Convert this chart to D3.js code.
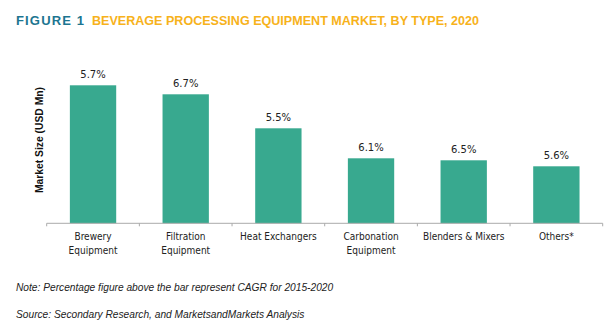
<!DOCTYPE html>
<html><head><meta charset="utf-8">
<script src="https://cdn.jsdelivr.net/npm/d3@7"></script>
<style>body{margin:0;background:#fff}svg{display:block}</style>
</head><body>
<svg id="c" width="613" height="336"></svg>
<script>
const categories = ["Brewery\nEquipment","Filtration\nEquipment","Heat Exchangers","Carbonation\nEquipment","Blenders & Mixers","Others*"];
const values = [138, 129, 95, 65, 63, 57];
const cagr = ["5.7%","6.7%","5.5%","6.1%","6.5%","5.6%"];

const svg = d3.select("#c");
const x = d3.scaleBand().domain(categories).range([46.7, 602.7]).paddingInner(0.5).paddingOuter(0.25);
const y = d3.scaleLinear().domain([0, 150]).range([223.3, 73.3]);

// title
svg.append("text").attr("x",16).attr("y",24.5).attr("font-family","Liberation Sans, sans-serif")
  .attr("font-weight","bold").attr("font-size",13).attr("fill","#1c7590")
  .attr("textLength",68).attr("lengthAdjust","spacing").text("FIGURE 1");
svg.append("text").attr("x",92).attr("y",24.5).attr("font-family","Liberation Sans, sans-serif")
  .attr("font-weight","bold").attr("font-size",13.5).attr("fill","#f7b21b")
  .attr("textLength",387).attr("lengthAdjust","spacingAndGlyphs")
  .text("BEVERAGE PROCESSING EQUIPMENT MARKET, BY TYPE, 2020");

// bars
svg.selectAll("rect.bar").data(categories).join("rect").attr("class","bar")
  .attr("x",d=>x(d)).attr("width",x.bandwidth())
  .attr("y",(d,i)=>y(values[i])).attr("height",(d,i)=>y(0)-y(values[i]))
  .attr("fill","#38a98f");

// value labels
svg.selectAll("text.val").data(categories).join("text").attr("class","val")
  .attr("x",d=>x(d)+x.bandwidth()/2).attr("y",(d,i)=>y(values[i])-7)
  .attr("text-anchor","middle").attr("font-family","DejaVu Sans, sans-serif").attr("font-size",10).attr("fill","#222")
  .text((d,i)=>cagr[i]);

// x axis
const ax = svg.append("g").attr("transform",`translate(0,${y(0)})`)
  .call(d3.axisBottom(x).tickSize(0).tickFormat(""));
ax.select(".domain").attr("stroke","#aaa").attr("d",`M46.7,3V0H602.7V3`);
ax.selectAll(".tick").remove();
const edges = categories.slice(1).map(d=>x(d)-x.step()*x.paddingInner()/2);
ax.selectAll("line.sep").data(edges).join("line").attr("class","sep")
  .attr("x1",d=>d).attr("x2",d=>d).attr("y1",0).attr("y2",3).attr("stroke","#aaa");

// category labels
const cl = svg.selectAll("text.cat").data(categories).join("text").attr("class","cat")
  .attr("x",d=>x(d)+x.bandwidth()/2).attr("y",240)
  .attr("text-anchor","middle").attr("font-family","DejaVu Sans Condensed, DejaVu Sans, sans-serif").attr("font-size",10).attr("fill","#222");
cl.selectAll("tspan").data(d=>d.split("\n")).join("tspan")
  .attr("x",function(){return d3.select(this.parentNode).attr("x");})
  .attr("dy",(d,i)=>i?14:0).text(d=>d);

// y label
svg.append("text").attr("transform","translate(43,140) rotate(-90)").attr("text-anchor","middle")
  .attr("font-family","Liberation Sans, sans-serif").attr("font-weight","bold").attr("font-size",10).attr("fill","#111")
  .attr("textLength",106).attr("lengthAdjust","spacingAndGlyphs")
  .text("Market Size (USD Mn)");

// notes
svg.append("text").attr("x",16).attr("y",291).attr("font-family","Liberation Sans, sans-serif").attr("font-style","italic").attr("font-size",10.2).attr("fill","#222")
  .text("Note: Percentage figure above the bar represent CAGR for 2015-2020");
svg.append("text").attr("x",16).attr("y",318).attr("font-family","Liberation Sans, sans-serif").attr("font-style","italic").attr("font-size",10.2).attr("fill","#222")
  .text("Source: Secondary Research, and MarketsandMarkets Analysis");
</script>
</body></html>
